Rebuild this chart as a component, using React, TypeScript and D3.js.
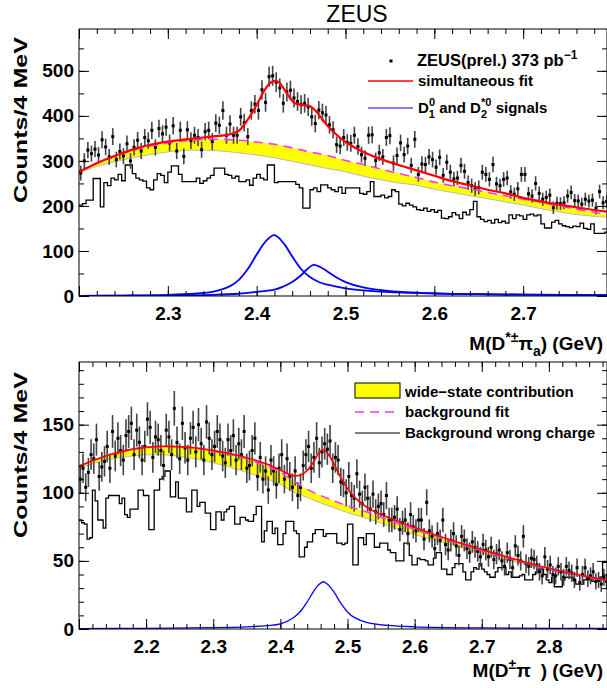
import React, { useEffect, useRef } from 'react';
import * as d3 from 'd3';

const FONT = "'Liberation Sans', Arial, Helvetica, sans-serif";
const BIN = 0.004; // 4 MeV bins

// ---------- top panel: M(D*± pi_a) ----------
const topBinStart = 2.2;
const topData = [
  273, 300, 324, 316, 326, 313, 347, 331, 309, 354,
  303, 321, 311, 338, 300, 330, 346, 322, 352, 345,
  368, 330, 372, 360, 375, 340, 378, 322, 368, 310,
  369, 345, 357, 352, 325, 365, 368, 343, 384, 379,
  412, 357, 382, 357, 357, 398, 385, 354, 412, 426,
  412, 458, 430, 487, 489, 475, 462, 428, 453, 457,
  440, 432, 425, 428, 420, 398, 383, 413, 407, 402,
  380, 369, 336, 333, 352, 341, 339, 357, 332, 314,
  306, 357, 358, 301, 318, 309, 352, 356, 295, 312,
  340, 314, 333, 290, 348, 270, 293, 292, 309, 303,
  286, 308, 268, 297, 275, 260, 262, 290, 277, 252,
  245, 238, 241, 275, 270, 259, 292, 249, 245, 259,
  262, 231, 226, 238, 270, 270, 227, 222, 250, 228,
  215, 219, 224, 196, 206, 205, 207, 222, 230, 212,
  211, 204, 215, 211, 213, 195, 232, 207, 210, 202,
];
const topWrong = [
  202, 205, 213, 213, 261, 261, 198, 252, 245, 262,
  258, 270, 256, 291, 291, 272, 262, 258, 255, 240,
  236, 258, 272, 268, 252, 275, 289, 289, 270, 254,
  254, 254, 254, 262, 250, 256, 262, 268, 284, 284,
  284, 270, 268, 262, 266, 254, 254, 258, 246, 262,
  270, 262, 258, 291, 291, 252, 254, 254, 254, 254,
  254, 248, 240, 195, 195, 236, 240, 232, 247, 247,
  240, 236, 232, 242, 228, 240, 240, 240, 240, 228,
  226, 232, 254, 221, 221, 224, 218, 221, 236, 232,
  204, 200, 206, 202, 198, 192, 190, 195, 188, 192,
  186, 190, 173, 172, 176, 185, 180, 172, 186, 180,
  192, 210, 176, 170, 165, 168, 162, 170, 163, 166,
  162, 180, 172, 180, 178, 170, 180, 182, 178, 180,
  160, 151, 151, 164, 168, 160, 156, 154, 152, 155,
  154, 162, 150, 148, 160, 139, 139, 139, 142, 140,
];
const topFit: [number, number][] = [
  [2.2, 276], [2.22, 295], [2.24, 311], [2.26, 325], [2.28, 336], [2.3, 343],
  [2.32, 348], [2.34, 352], [2.36, 356], [2.37, 359], [2.38, 367], [2.385, 378],
  [2.39, 392], [2.396, 410], [2.402, 432], [2.408, 454], [2.415, 473], [2.421, 478],
  [2.426, 473], [2.434, 450], [2.443, 428], [2.452, 424], [2.46, 422], [2.467, 410],
  [2.479, 380], [2.49, 358], [2.5, 342], [2.52, 320], [2.54, 304], [2.56, 291],
  [2.58, 279], [2.6, 267], [2.62, 255], [2.64, 246], [2.66, 236], [2.68, 228],
  [2.7, 218], [2.72, 210], [2.74, 203], [2.76, 197], [2.78, 191], [2.8, 186],
];
const topBkg: [number, number][] = [
  [2.2, 276], [2.22, 295], [2.24, 310], [2.26, 323], [2.28, 333], [2.3, 340],
  [2.32, 345], [2.34, 347.5], [2.36, 348], [2.38, 346], [2.4, 342], [2.42, 337],
  [2.44, 329], [2.46, 320], [2.48, 312], [2.5, 301], [2.52, 292], [2.54, 282],
  [2.56, 272], [2.58, 263], [2.6, 253], [2.62, 245], [2.64, 238], [2.66, 230],
  [2.68, 222.5], [2.7, 215], [2.72, 208], [2.74, 200], [2.76, 193], [2.78, 186], [2.8, 179],
];
const topWideLow: [number, number][] = [
  [2.2, 274], [2.22, 288], [2.24, 298], [2.26, 307], [2.28, 314], [2.3, 320],
  [2.32, 323], [2.34, 324], [2.36, 322], [2.38, 318], [2.4, 313], [2.42, 307],
  [2.44, 299], [2.46, 291], [2.48, 283], [2.5, 276], [2.52, 266], [2.54, 258],
  [2.56, 251], [2.58, 246], [2.6, 237], [2.62, 230], [2.64, 223], [2.66, 216],
  [2.68, 209], [2.7, 202], [2.72, 194], [2.74, 187], [2.76, 181], [2.78, 177], [2.8, 174],
];
const topD1: [number, number][] = [
  [2.2, 0.3], [2.25, 1], [2.3, 2.5], [2.33, 5], [2.35, 9], [2.36, 14], [2.37, 22],
  [2.38, 36], [2.39, 60], [2.4, 92], [2.41, 121], [2.42, 135], [2.43, 118], [2.44, 88],
  [2.45, 60], [2.46, 42], [2.47, 31], [2.48, 25], [2.5, 17], [2.52, 12.5], [2.55, 8.5],
  [2.6, 5.5], [2.65, 4], [2.7, 3], [2.8, 2],
];
const topD2: [number, number][] = [
  [2.2, 0.2], [2.3, 1], [2.35, 2.5], [2.38, 5], [2.4, 9], [2.42, 14], [2.43, 21],
  [2.44, 31], [2.45, 46], [2.457, 60], [2.464, 69], [2.471, 65], [2.48, 54], [2.49, 41],
  [2.5, 31], [2.52, 19], [2.55, 11], [2.6, 6], [2.65, 4], [2.7, 3], [2.8, 2],
];
const topXMajor = [2.2, 2.3, 2.4, 2.5, 2.6, 2.7, 2.8];
const topXLabels = ['', '2.3', '2.4', '2.5', '2.6', '2.7', ''];
const topYMajor = [0, 100, 200, 300, 400, 500];

// ---------- bottom panel: M(D± pi) ----------
const botBinStart = 2.1;
const botData = [
  110, 118, 104, 115, 128, 125, 139, 112, 119, 123,
  134, 118, 145, 127, 140, 131, 124, 142, 145, 151,
  128, 146, 137, 124, 134, 154, 148, 126, 141, 139,
  131, 120, 146, 141, 128, 162, 137, 125, 151, 133,
  124, 140, 148, 130, 150, 136, 124, 152, 140, 128,
  134, 145, 139, 127, 122, 139, 131, 142, 124, 136,
  128, 145, 118, 120, 131, 140, 112, 126, 110, 116,
  102, 124, 116, 106, 118, 128, 110, 125, 112, 104,
  116, 98, 104, 120, 128, 134, 118, 126, 140, 122,
  130, 136, 132, 138, 118, 126, 124, 108, 107, 100,
  112, 98, 96, 114, 99, 92, 104, 96, 88, 99,
  86, 90, 92, 84, 98, 80, 80, 82, 88, 73,
  78, 80, 70, 84, 75, 72, 80, 80, 66, 93,
  72, 68, 59, 70, 65, 80, 62, 58, 65, 70,
  61, 54, 68, 65, 59, 56, 64, 60, 57, 53,
  62, 58, 53, 60, 51, 55, 58, 50, 46, 56,
  51, 45, 61, 54, 50, 68, 48, 46, 52, 51,
  47, 42, 39, 53, 44, 47, 40, 39, 46, 42,
  38, 46, 43, 41, 36, 45, 34, 40, 45, 37,
  39, 42, 35, 36, 33, 38, 35, 37,
];
const botWrong = [
  80, 78, 77, 66, 67, 102, 94, 80, 80, 74,
  96, 98, 98, 98, 98, 92, 96, 84, 82, 88,
  88, 88, 102, 102, 98, 98, 73, 73, 102, 102,
  110, 112, 116, 116, 97, 97, 108, 96, 96, 96,
  86, 86, 102, 102, 90, 93, 93, 85, 85, 73,
  73, 86, 86, 80, 86, 88, 90, 90, 77, 77,
  82, 82, 80, 79, 79, 84, 90, 90, 64, 72,
  79, 79, 70, 74, 62, 62, 70, 79, 79, 79,
  72, 70, 53, 53, 60, 64, 64, 70, 73, 73,
  73, 68, 70, 70, 70, 70, 63, 63, 62, 63,
  77, 77, 47, 47, 67, 67, 62, 70, 70, 70,
  60, 60, 63, 63, 63, 58, 56, 56, 50, 50,
  50, 63, 63, 54, 47, 47, 52, 51, 51, 50,
  47, 47, 52, 56, 56, 44, 44, 40, 40, 45,
  48, 48, 48, 42, 36, 36, 42, 45, 44, 48,
  44, 42, 40, 38, 38, 42, 45, 45, 45, 40,
  42, 38, 38, 38, 39, 40, 36, 36, 36, 40,
  42, 44, 44, 40, 36, 34, 38, 31, 31, 31,
  36, 38, 38, 38, 36, 33, 33, 33, 36, 38,
  36, 35, 35, 35, 38, 49, 49, 49,
];
const botFit: [number, number][] = [
  [2.1, 119.5], [2.14, 127], [2.18, 132], [2.22, 134], [2.26, 133.5], [2.3, 131],
  [2.34, 127], [2.38, 121], [2.4, 116.5], [2.42, 112.5], [2.43, 113], [2.44, 116.5],
  [2.45, 123], [2.457, 129], [2.464, 131.7], [2.471, 128.5], [2.48, 121], [2.49, 111],
  [2.5, 103], [2.51, 97], [2.53, 89], [2.56, 82], [2.6, 74.5], [2.66, 64.3],
  [2.7, 58.3], [2.74, 52.6], [2.78, 47], [2.82, 42.4], [2.86, 38.3], [2.9, 34.4],
];
const botBkg: [number, number][] = [
  [2.1, 119.5], [2.14, 127], [2.18, 132], [2.22, 134], [2.26, 133.5], [2.3, 130.5],
  [2.34, 126.5], [2.38, 119.5], [2.4, 115], [2.42, 108.5], [2.44, 102.5], [2.46, 98],
  [2.48, 94], [2.5, 90.5], [2.54, 84], [2.58, 76.5], [2.62, 70], [2.66, 63.5],
  [2.7, 57.5], [2.74, 52], [2.78, 46.5], [2.82, 42], [2.86, 38], [2.9, 34],
];
const botWideLow: [number, number][] = [
  [2.1, 118], [2.14, 124], [2.18, 127], [2.22, 128], [2.26, 126], [2.3, 122],
  [2.34, 116.5], [2.38, 110], [2.4, 106], [2.42, 100.5], [2.44, 96.5], [2.46, 92.5],
  [2.48, 89], [2.5, 85.5], [2.54, 79.5], [2.58, 72.5], [2.62, 66.5], [2.66, 61],
  [2.7, 55.5], [2.74, 50.5], [2.78, 45.5], [2.82, 41], [2.86, 37.3], [2.9, 33.5],
];
const botSignal: [number, number][] = [
  [2.1, 0.3], [2.2, 0.5], [2.3, 1], [2.35, 1.6], [2.38, 2.5], [2.4, 3.8], [2.42, 8.5],
  [2.43, 13], [2.44, 20], [2.45, 28], [2.457, 32.5], [2.464, 34.7], [2.471, 32.5],
  [2.48, 27], [2.49, 19], [2.5, 12.5], [2.51, 8.5], [2.53, 4.6], [2.56, 2.6],
  [2.6, 1.6], [2.7, 0.8], [2.8, 0.5], [2.9, 0.4],
];
const botXMajor = [2.1, 2.2, 2.3, 2.4, 2.5, 2.6, 2.7, 2.8];
const botXLabels = ['', '2.2', '2.3', '2.4', '2.5', '2.6', '2.7', '2.8'];
const botYMajor = [0, 50, 100, 150];

function drawPanel(svg, p) {
  const { x, y, left, right, top, bottom, id } = p;
  const g = svg.append('g');

  g.append('clipPath').attr('id', id)
    .append('rect').attr('x', left).attr('y', top)
    .attr('width', right - left).attr('height', bottom - top);
  const plot = g.append('g').attr('clip-path', `url(#${id})`);

  const curve = d3.curveCatmullRom.alpha(0.5);
  const line = d3.line<[number, number]>().x(d => x(d[0])).y(d => y(d[1])).curve(curve);

  // wide-state band between background and background minus wide states
  const upper = d3.scaleLinear().domain(p.bkg.map(d => d[0])).range(p.bkg.map(d => d[1]));
  const band = p.wideLow.map(d => [d[0], d[1], upper(d[0])]);
  plot.append('path')
    .attr('d', d3.area<number[]>().x(d => x(d[0])).y0(d => y(d[1])).y1(d => y(d[2])).curve(curve)(band))
    .attr('fill', '#ffff00');
  plot.append('path').attr('d', line(p.wideLow)).attr('fill', 'none')
    .attr('stroke', '#b8b8b8').attr('stroke-width', 1);

  // wrong-charge histogram
  const steps = p.wrong.map((v, i) => [p.binStart + i * BIN, v]);
  steps.push([p.binStart + p.wrong.length * BIN, p.wrong[p.wrong.length - 1]]);
  plot.append('path')
    .attr('d', d3.line<number[]>().x(d => x(d[0])).y(d => y(d[1])).curve(d3.curveStepAfter)(steps))
    .attr('fill', 'none').attr('stroke', '#000').attr('stroke-width', 1.3);

  // data with errors
  const pts = plot.append('g');
  p.data.forEach((v, i) => {
    const cx = x(p.binStart + (i + 0.5) * BIN);
    const e = Math.sqrt(v);
    pts.append('line').attr('x1', cx).attr('x2', cx)
      .attr('y1', y(v - e)).attr('y2', y(v + e))
      .attr('stroke', '#444').attr('stroke-width', 1.6);
    pts.append('rect').attr('x', cx - 1.5).attr('y', y(v) - 1.5)
      .attr('width', 3).attr('height', 3).attr('fill', '#000');
  });

  // background fit
  plot.append('path').attr('d', line(p.bkg)).attr('fill', 'none')
    .attr('stroke', '#ff33ff').attr('stroke-width', 1.6).attr('stroke-dasharray', '9,6');

  // signals
  p.signals.forEach(s => {
    plot.append('path').attr('d', line(s)).attr('fill', 'none')
      .attr('stroke', '#0000ff').attr('stroke-width', p.sigWidth);
  });

  // simultaneous fit
  plot.append('path').attr('d', line(p.fit)).attr('fill', 'none')
    .attr('stroke', '#ff0000').attr('stroke-width', p.fitWidth);

  // frame
  g.append('rect').attr('x', left).attr('y', top)
    .attr('width', right - left).attr('height', bottom - top)
    .attr('fill', 'none').attr('stroke', '#000').attr('stroke-width', 1);

  const style = (sel) => {
    sel.select('.domain').remove();
    sel.selectAll('line').attr('stroke', '#000');
    sel.selectAll('text').attr('font-family', FONT).attr('font-weight', 'bold')
      .attr('font-size', 19).attr('fill', '#000');
  };

  // x ticks (inward), bottom with labels, top plain
  g.append('g').attr('transform', `translate(0,${bottom})`)
    .call(d3.axisBottom(x).tickValues(x.ticks(p.xMinorN)).tickSize(-5).tickFormat(() => ''))
    .call(style);
  g.append('g').attr('transform', `translate(0,${bottom})`)
    .call(d3.axisBottom(x).tickValues(p.xMajor).tickSize(-10).tickPadding(11)
      .tickFormat((d, i) => p.xLabels[i]))
    .call(style);
  g.append('g').attr('transform', `translate(0,${top})`)
    .call(d3.axisTop(x).tickValues(x.ticks(p.xMinorN)).tickSize(-5).tickFormat(() => ''))
    .call(style);
  g.append('g').attr('transform', `translate(0,${top})`)
    .call(d3.axisTop(x).tickValues(p.xMajor).tickSize(-10).tickFormat(() => ''))
    .call(style);

  // y ticks
  g.append('g').attr('transform', `translate(${left},0)`)
    .call(d3.axisLeft(y).tickValues(y.ticks(p.yMinorN)).tickSize(-5).tickFormat(() => ''))
    .call(style);
  g.append('g').attr('transform', `translate(${left},0)`)
    .call(d3.axisLeft(y).tickValues(p.yMajor).tickSize(-10).tickPadding(5).tickFormat(d3.format('d')))
    .call(style);
  g.append('g').attr('transform', `translate(${right},0)`)
    .call(d3.axisRight(y).tickValues(y.ticks(p.yMinorN)).tickSize(-5).tickFormat(() => ''))
    .call(style);
  g.append('g').attr('transform', `translate(${right},0)`)
    .call(d3.axisRight(y).tickValues(p.yMajor).tickSize(-10).tickFormat(() => ''))
    .call(style);

  // y title
  g.append('text')
    .attr('transform', 'rotate(-90)')
    .attr('x', -p.yTitleEnd).attr('y', 27)
    .attr('text-anchor', 'end')
    .attr('textLength', 166).attr('lengthAdjust', 'spacingAndGlyphs')
    .attr('font-family', FONT).attr('font-weight', 'bold').attr('font-size', 19)
    .text('Counts/4 MeV');

  // x title
  g.append('text')
    .attr('x', 603).attr('y', p.xTitleY)
    .attr('text-anchor', 'end')
    .attr('font-family', FONT).attr('font-weight', 'bold').attr('font-size', 19)
    .html(p.xTitle);
}

function legendText(g, x, y, html, size = 15) {
  g.append('text').attr('x', x).attr('y', y)
    .attr('font-family', FONT).attr('font-weight', 'bold').attr('font-size', size)
    .html(html);
}

export default function App() {
  const ref = useRef(null);

  useEffect(() => {
    const svg = d3.select(ref.current);
    svg.selectAll('*').remove();

    svg.append('text').attr('x', 357).attr('y', 22).attr('text-anchor', 'middle')
      .attr('font-family', FONT).attr('font-size', 23).text('ZEUS');

    drawPanel(svg, {
      id: 'clipTop',
      x: d3.scaleLinear().domain([2.2, 2.8]).range([79, 612]),
      y: d3.scaleLinear().domain([0, 593]).range([296, 29]),
      left: 79, right: 607, top: 29, bottom: 296,
      binStart: topBinStart, data: topData, wrong: topWrong,
      fit: topFit, bkg: topBkg, wideLow: topWideLow, signals: [topD1, topD2],
      fitWidth: 2.2, sigWidth: 1.8,
      xMajor: topXMajor, xLabels: topXLabels, xMinorN: 30,
      yMajor: topYMajor, yMinorN: 12,
      yTitleEnd: 37, xTitleY: 350,
      xTitle: 'M(D<tspan font-size="14" dy="-8">*±</tspan><tspan dy="8">π</tspan><tspan font-size="14" dy="6">a</tspan><tspan dy="-6">) (GeV)</tspan>',
    });

    drawPanel(svg, {
      id: 'clipBot',
      x: d3.scaleLinear().domain([2.1, 2.9]).range([79, 616]),
      y: d3.scaleLinear().domain([0, 196]).range([629, 362]),
      left: 79, right: 607, top: 362, bottom: 629,
      binStart: botBinStart, data: botData, wrong: botWrong,
      fit: botFit, bkg: botBkg, wideLow: botWideLow, signals: [botSignal],
      fitWidth: 1.7, sigWidth: 1.3,
      xMajor: botXMajor, xLabels: botXLabels, xMinorN: 40,
      yMajor: botYMajor, yMinorN: 20,
      yTitleEnd: 372, xTitleY: 677,
      xTitle: 'M(D<tspan font-size="14" dy="-8">±</tspan><tspan dy="8">π</tspan><tspan dx="10">) (GeV)</tspan>',
    });

    // top legend
    const lt = svg.append('g');
    lt.append('rect').attr('x', 389.5).attr('y', 59.5).attr('width', 3).attr('height', 3).attr('fill', '#000');
    legendText(lt, 417, 66, 'ZEUS(prel.) 373 pb<tspan font-size="12" dy="-7">−1</tspan>', 16.5);
    lt.append('line').attr('x1', 368).attr('x2', 413).attr('y1', 81).attr('y2', 81)
      .attr('stroke', '#ff0000').attr('stroke-width', 1.5);
    legendText(lt, 418, 86, 'simultaneous fit');
    lt.append('line').attr('x1', 368).attr('x2', 413).attr('y1', 108).attr('y2', 108)
      .attr('stroke', '#0000ff').attr('stroke-width', 1.2);
    legendText(lt, 418, 113,
      'D<tspan font-size="11" dy="5">1</tspan><tspan font-size="11" dx="-6" dy="-12">0</tspan>' +
      '<tspan dy="7"> and D</tspan><tspan font-size="11" dy="5">2</tspan>' +
      '<tspan font-size="11" dx="-6" dy="-12">*0</tspan><tspan dy="7"> signals</tspan>');

    // bottom legend
    const lb = svg.append('g');
    lb.append('rect').attr('x', 355).attr('y', 383).attr('width', 45).attr('height', 15)
      .attr('fill', '#ffff00').attr('stroke', '#000').attr('stroke-width', 1);
    legendText(lb, 405, 397, 'wide−state contribution');
    lb.append('line').attr('x1', 355).attr('x2', 400).attr('y1', 412).attr('y2', 412)
      .attr('stroke', '#ff33ff').attr('stroke-width', 1.6).attr('stroke-dasharray', '9,6');
    legendText(lb, 405, 417, 'background fit');
    lb.append('line').attr('x1', 355).attr('x2', 400).attr('y1', 433).attr('y2', 433)
      .attr('stroke', '#000').attr('stroke-width', 1.2);
    legendText(lb, 405, 438, 'Background wrong charge');
  }, []);

  return (
    <svg ref={ref} width={607} height={688}
      style={{ position: 'absolute', left: 0, top: 0, background: '#fff' }} />
  );
}
